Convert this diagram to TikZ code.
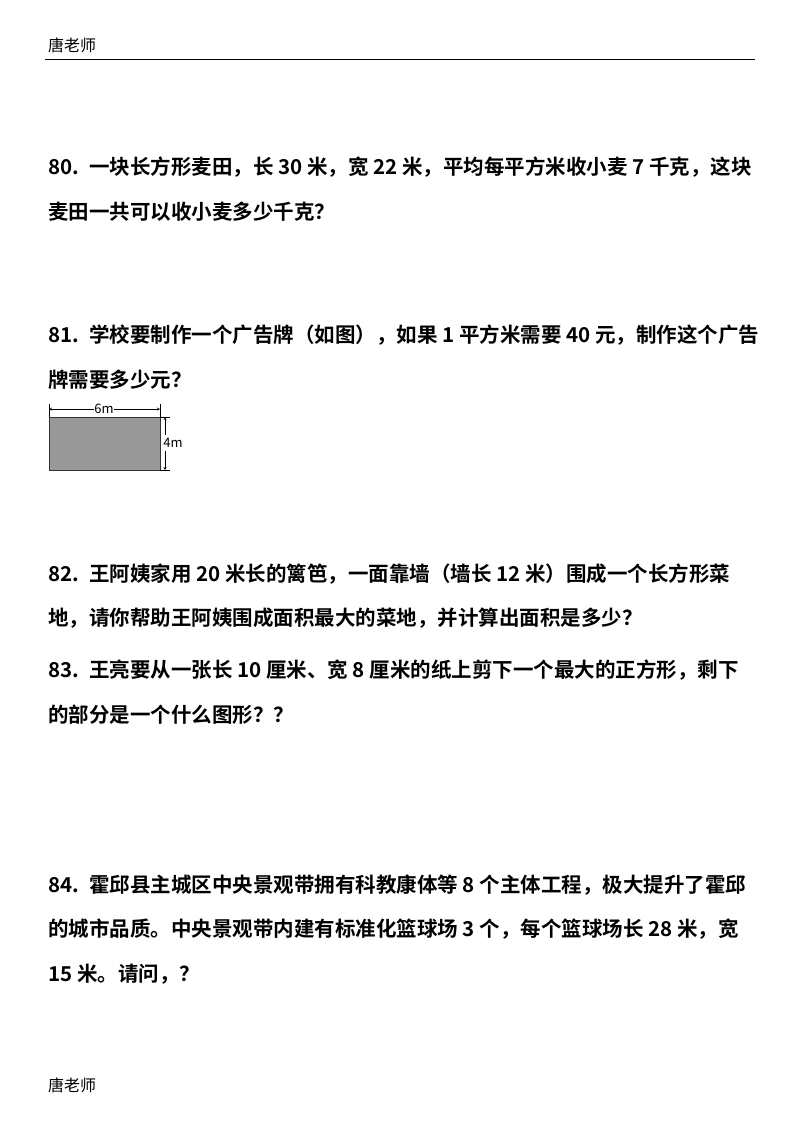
\documentclass[tikz,border=0pt]{standalone}
\usepackage{fontspec}
\setmainfont{Noto Sans CJK SC}[BoldFont={* Bold}]
\begin{document}
\begin{tikzpicture}[x=1pt,y=-1pt,
  q/.style={anchor=west,inner sep=0pt,font=\fontsize{20.5}{21}\selectfont\bfseries},
  hd/.style={anchor=west,inner sep=0pt,font=\fontsize{16}{17}\selectfont}]
\useasboundingbox[fill=white] (0,0) rectangle (800,1132);
\node[hd] (h) at (48,45) {唐老师};
\draw[line width=1pt] (45,60) -- (755,60);
\node[q] (a1) at (48,167) {80.\hspace{0.5em}一块长方形麦田，长 30 米，宽 22 米，平均每平方米收小麦 7 千克，这块};
\node[q] (a2) at (48,212) {麦田一共可以收小麦多少千克？};
\node[q] (b1) at (48,335) {81.\hspace{0.5em}学校要制作一个广告牌（如图），如果 1 平方米需要 40 元，制作这个广告};
\node[q] (b2) at (48,380) {牌需要多少元？};
\node[q] (c1) at (48,574) {82.\hspace{0.5em}王阿姨家用 20 米长的篱笆，一面靠墙（墙长 12 米）围成一个长方形菜};
\node[q] (c2) at (48,618) {地，请你帮助王阿姨围成面积最大的菜地，并计算出面积是多少？};
\node[q] (d1) at (48,670) {83.\hspace{0.5em}王亮要从一张长 10 厘米、宽 8 厘米的纸上剪下一个最大的正方形，剩下};
\node[q] (d2) at (48,715) {的部分是一个什么图形？？};
\node[q] (e1) at (48,885) {84.\hspace{0.5em}霍邱县主城区中央景观带拥有科教康体等 8 个主体工程，极大提升了霍邱};
\node[q] (e2) at (48,929) {的城市品质。中央景观带内建有标准化篮球场 3 个，每个篮球场长 28 米，宽};
\node[q] (e3) at (48,974) {15 米。请问，？};
\node[hd] (f) at (48,1085) {唐老师};
% figure
\draw[fill=gray!85!black!70, draw=black!80] (49,417) rectangle (160,470);
\node[inner sep=0.5pt,fill=white,font=\fontsize{13}{13}\selectfont] (w) at (104,409) {6m};
\draw[-stealth,thin] (w.west) -- (49,409);
\draw[-stealth,thin] (w.east) -- (160,409);
\draw[thin] (49,404) -- (49,417);
\draw[thin] (160,404) -- (160,417);
\node[inner sep=0.5pt,fill=white,font=\fontsize{13}{13}\selectfont] (hh) at (173,443) {4m};
\draw[-stealth,thin] (165,435) -- (165,417);
\draw[-stealth,thin] (165,451) -- (165,470);
\draw[thin] (160,417) -- (170,417);
\draw[thin] (160,470) -- (170,470);
\end{tikzpicture}
\end{document}
